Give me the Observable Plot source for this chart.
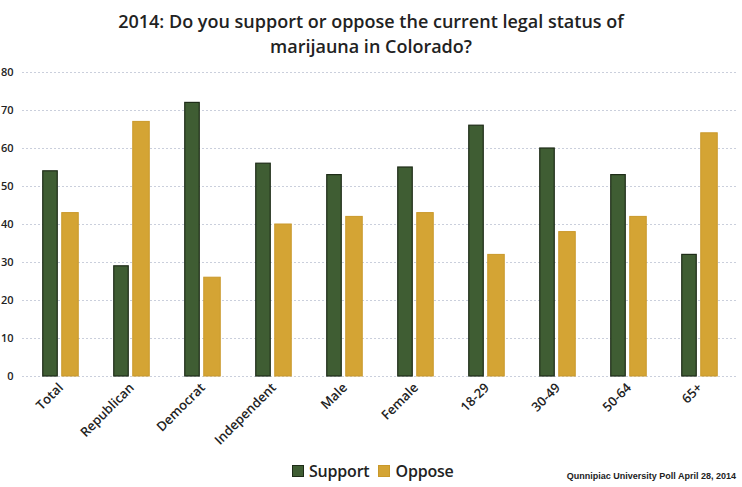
<!DOCTYPE html>
<html>
<head>
<meta charset="utf-8">
<script src="https://cdn.jsdelivr.net/npm/d3@7"></script>
<script src="https://cdn.jsdelivr.net/npm/@observablehq/plot@0.6"></script>
<style>
  body { margin: 0; background: #fff; font-family: "Open Sans", "Liberation Sans", sans-serif; }
  #wrap { width: 742px; height: 487px; position: relative; overflow: hidden; }
  #title { position: absolute; left: 0; top: 9px; width: 742px; text-align: center; font-size: 18px; font-weight: 600; line-height: 25px; color: #222; }
  #chart { position: absolute; left: 0; top: 60px; }
  #chart svg text { font-weight: 600; }
  #legend { position: absolute; left: 292px; top: 460px; font-size: 16px; font-weight: 600; color: #222; display: flex; gap: 9px; align-items: center; letter-spacing: -0.2px; }
  #legend span.sw { display: inline-block; width: 10px; height: 10px; margin-right: 5px; vertical-align: 0px; }
  #caption { position: absolute; right: 6px; top: 471px; font-size: 9px; font-weight: 700; color: #222; font-family: "Liberation Sans Narrow", "Liberation Sans", sans-serif; }
</style>
</head>
<body>
<div id="wrap">
  <div id="title">2014: Do you support or oppose the current legal status of<br>marijauna in Colorado?</div>
  <div id="chart"></div>
  <div id="legend"></div>
  <div id="caption"></div>
</div>
<script>
const categories = ["Total", "Republican", "Democrat", "Independent", "Male", "Female", "18-29", "30-49", "50-64", "65+"];
const seriesNames = ["Support", "Oppose"];
const support = [54, 29, 72, 56, 53, 55, 66, 60, 53, 32];
const oppose = [43, 67, 26, 40, 42, 43, 32, 38, 42, 64];
const yTicks = [0, 10, 20, 30, 40, 50, 60, 70, 80];
const colors = ["#3f5d33", "#d4a434"];
const strokes = ["#1e2c18", "#c9982a"];
const captionText = "Qunnipiac University Poll April 28, 2014";

const supportData = categories.map((c, i) => ({category: c, value: support[i]}));
const opposeData = categories.map((c, i) => ({category: c, value: oppose[i]}));

const W = 742, ML = 22, MR = 5;
const step = (W - ML - MR) / categories.length;
const half = step / 2;

const plot = Plot.plot({
  width: W,
  height: 410,
  marginLeft: ML,
  marginRight: MR,
  marginTop: 12,
  marginBottom: 94,
  style: {fontFamily: "'Open Sans', 'Liberation Sans', sans-serif", background: "transparent"},
  x: {domain: categories, padding: 0, label: null},
  y: {domain: [0, 80], ticks: yTicks, label: null},
  marks: [
    Plot.gridY(yTicks, {stroke: "#a0a8c0", strokeOpacity: 0.7, strokeDasharray: "2,2", strokeWidth: 0.8}),
    Plot.axisY({ticks: yTicks, tickSize: 0, tickPadding: 9, fontSize: 11, fill: "#222", label: null}),
    Plot.barY(supportData, {x: "category", y: "value", fill: colors[0], stroke: strokes[0], strokeWidth: 1.2,
      insetLeft: half - 18, insetRight: half + 3}),
    Plot.barY(opposeData, {x: "category", y: "value", fill: colors[1], stroke: strokes[1], strokeWidth: 1,
      insetLeft: half + 1, insetRight: half - 18}),
    Plot.axisX({tickSize: 0, tickPadding: 4, tickRotate: -45, textAnchor: "end", fontSize: 13, fill: "#222", dy: 5, dx: 0, label: null})
  ]
});
document.getElementById("chart").appendChild(plot);

const legend = document.getElementById("legend");
seriesNames.forEach((s, i) => {
  const item = document.createElement("div");
  const sw = document.createElement("span");
  sw.className = "sw";
  sw.style.background = colors[i];
  sw.style.border = "1px solid " + strokes[i];
  item.appendChild(sw);
  item.appendChild(document.createTextNode(s));
  legend.appendChild(item);
});
document.getElementById("caption").textContent = captionText;
</script>
</body>
</html>
